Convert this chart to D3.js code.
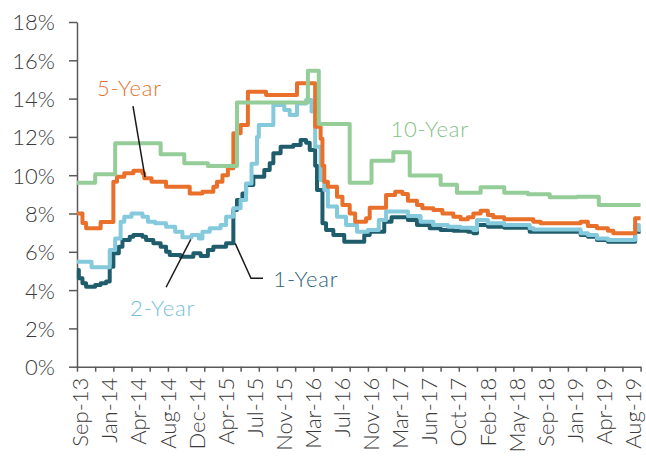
<!DOCTYPE html>
<html>
<head>
<meta charset="utf-8">
<script src="https://cdn.jsdelivr.net/npm/d3@7"></script>
<style>
  html, body { margin: 0; padding: 0; background: #fff; }
  #chart { width: 646px; height: 461px; }
  text { font-family: Lato, "Open Sans", sans-serif; font-weight: 300; }
</style>
</head>
<body>
<div id="chart"></div>
<script>
// Term deposit rates by maturity (weekly, Sep-13 to Aug-19)
(function () {
  ///////////////////////////////////////////////////////////// ! Data
  // Category axis: weekly points, labels every 16 weeks
  const weekCount = 310;
  const dateLabels = [
    "Sep-13", "Jan-14", "Apr-14", "Aug-14", "Dec-14", "Apr-15", "Jul-15",
    "Nov-15", "Mar-16", "Jul-16", "Nov-16", "Mar-17", "Jun-17", "Oct-17",
    "Feb-18", "May-18", "Sep-18", "Jan-19", "Apr-19", "Aug-19",
  ];
  const labelEvery = 16;
  const tickEvery = 10;
  const yTicks = [0, 2, 4, 6, 8, 10, 12, 14, 16, 18];

  // [week, rate %] at each step change
  const tenYear = [
    [0, 9.6], [10, 10.05], [21, 11.67], [46, 11.1], [59, 10.62], [72, 10.48],
    [88, 13.79], [127, 15.46], [133, 12.67], [150, 9.61], [162, 10.76],
    [174, 11.2], [183, 9.99], [200, 9.5], [209, 9.09], [222, 9.37],
    [235, 9.09], [248, 9.0], [260, 8.85], [275, 8.88], [287, 8.44], [310, 8.44],
  ];
  const fiveYear = [
    [0, 8.0], [3, 7.5], [5, 7.23], [13, 7.55], [20, 9.66], [22, 9.92],
    [26, 10.1], [31, 10.23], [36, 10.1], [37, 9.84], [41, 9.66], [49, 9.4],
    [62, 9.05], [69, 9.14], [75, 9.4], [77, 9.66], [80, 10.0], [83, 10.36],
    [86, 12.19], [90, 12.62], [94, 14.36], [104, 14.19], [121, 14.8],
    [131, 12.53], [134, 11.9], [135, 10.5], [136, 9.66], [138, 9.4],
    [143, 8.88], [146, 8.44], [150, 8.0], [153, 7.57], [159, 7.75],
    [161, 8.3], [170, 8.97], [175, 9.14], [179, 9.02], [182, 8.67],
    [187, 8.44], [190, 8.27], [196, 8.18], [201, 8.0], [207, 7.83],
    [211, 7.7], [215, 7.8], [218, 8.0], [222, 8.15], [226, 7.92], [229, 7.8],
    [235, 7.7], [251, 7.57], [255, 7.49], [277, 7.57], [281, 7.35],
    [286, 7.23], [292, 7.1], [295, 6.97], [307, 7.75], [310, 7.75],
  ];
  const twoYear = [
    [0, 5.48], [8, 5.19], [18, 6.09], [21, 6.7], [24, 7.57], [26, 7.83],
    [30, 8.0], [36, 7.83], [39, 7.57], [43, 7.49], [49, 7.31], [54, 7.05],
    [58, 6.76], [63, 6.88], [67, 6.7], [69, 7.05], [73, 7.23], [79, 7.4],
    [82, 7.83], [86, 8.27], [90, 8.7], [93, 9.57], [96, 10.6], [99, 12.0],
    [100, 12.62], [108, 13.66], [114, 13.4], [117, 13.14], [121, 13.75],
    [126, 13.93], [129, 13.32], [131, 11.49], [134, 9.75], [136, 9.23],
    [138, 8.36], [143, 7.83], [148, 7.4], [154, 7.05], [160, 7.14],
    [166, 7.66], [170, 8.1], [182, 7.87], [189, 7.57], [196, 7.4],
    [204, 7.31], [211, 7.26], [218, 7.14], [220, 7.66], [226, 7.49],
    [235, 7.4], [249, 7.23], [251, 7.17], [277, 6.97], [281, 6.88],
    [286, 6.7], [292, 6.62], [307, 7.4], [309, 7.14], [310, 7.14],
  ];
  const oneYear = [
    [0, 5.05], [1, 4.62], [3, 4.36], [5, 4.18], [10, 4.27], [13, 4.36],
    [16, 4.45], [18, 5.22], [20, 5.92], [23, 6.27], [25, 6.62], [29, 6.79],
    [31, 6.88], [36, 6.79], [38, 6.62], [42, 6.44], [46, 6.27], [49, 6.0],
    [51, 5.83], [57, 5.74], [64, 5.92], [68, 5.78], [72, 6.09], [75, 6.27],
    [82, 6.44], [86, 8.18], [88, 8.7], [91, 9.05], [93, 9.49], [97, 9.92],
    [103, 10.27], [106, 10.62], [108, 11.14], [112, 11.49], [119, 11.58],
    [123, 11.84], [126, 11.7], [128, 11.32], [131, 10.5], [132, 9.23],
    [135, 7.49], [137, 7.14], [141, 6.88], [147, 6.53], [158, 6.88],
    [161, 7.05], [169, 7.57], [173, 7.8], [182, 7.66], [187, 7.4],
    [194, 7.23], [200, 7.14], [207, 7.1], [215, 7.05], [218, 6.97],
    [220, 7.4], [226, 7.31], [235, 7.26], [249, 7.05], [277, 6.88],
    [281, 6.79], [286, 6.62], [292, 6.53], [307, 7.05], [310, 7.05],
  ];

  // Drawn bottom to top
  const series = [
    { name: "1-Year", values: oneYear, color: "#1f5d6c" },
    { name: "2-Year", values: twoYear, color: "#85c9dd" },
    { name: "5-Year", values: fiveYear, color: "#e8702a" },
    { name: "10-Year", values: tenYear, color: "#94cd98" },
  ];

  // Callouts in data units: label anchor and leader polyline
  const callouts = [
    { text: "5-Year", color: "#e8702a", at: [11, 14.14], leader: [[30.8, 13.61], [37.4, 9.9]] },
    { text: "10-Year", color: "#7fc286", at: [172.4, 12.0], leader: [] },
    { text: "2-Year", color: "#72bfd8", at: [29.2, 2.65], leader: [[49, 4.15], [62.6, 6.65]] },
    { text: "1-Year", color: "#2a6577", at: [108, 4.16], leader: [[102.3, 4.62], [95.7, 4.62], [87, 6.44]] },
  ];

  ///////////////////////////////////////////////////////////// ! Setup
  const fullWidth = 646;
  const fullHeight = 461;
  const margin = { top: 22, right: 5, bottom: 94.3, left: 77 };
  const width = fullWidth - margin.left - margin.right;
  const height = fullHeight - margin.top - margin.bottom;

  const svg = d3
    .select("#chart")
    .append("svg")
    .attr("width", fullWidth)
    .attr("height", fullHeight)
    .style("display", "block")
    .append("g")
    .attr("transform", `translate(${margin.left},${margin.top})`);

  ///////////////////////////////////////////////////////////// ! Scales
  const xScale = d3.scaleLinear().domain([0, weekCount]).range([0, width - 0.4]);
  const yScale = d3.scaleLinear().domain([0, 18]).range([height, 0]);

  ///////////////////////////////////////////////////////////// ! Axes
  const axisColor = "#5a5a5a";
  const textColor = "#3b3b3b";

  // Y axis
  const yAxis = svg
    .append("g")
    .attr("class", "y-axis")
    .call(
      d3.axisLeft(yScale)
        .tickValues(yTicks)
        .tickFormat((d) => d + "%")
        .tickSize(8)
        .tickSizeOuter(0)
        .tickPadding(14)
    );
  yAxis.selectAll("path, line").attr("stroke", axisColor).attr("stroke-width", 1.5);
  yAxis
    .selectAll("text")
    .attr("fill", textColor)
    .style("font-size", "22px")
    .attr("dy", "0.36em");

  // X axis tick marks every 10 weeks
  const xAxis = svg
    .append("g")
    .attr("class", "x-axis")
    .attr("transform", `translate(0,${height})`)
    .call(
      d3.axisBottom(xScale)
        .tickValues(d3.range(0, weekCount + 1, tickEvery))
        .tickFormat("")
        .tickSize(5)
        .tickSizeOuter(0)
    );
  xAxis.selectAll("path, line").attr("stroke", axisColor).attr("stroke-width", 1.5);

  // X axis date labels, rotated
  const labelPos = dateLabels.map((d, i) => i * labelEvery + 0.5);
  const xLabels = svg
    .append("g")
    .attr("class", "x-labels")
    .attr("transform", `translate(0,${height})`)
    .call(
      d3.axisBottom(xScale)
        .tickValues(labelPos)
        .tickFormat((d, i) => dateLabels[i])
        .tickSize(0)
    );
  xLabels.select(".domain").remove();
  xLabels
    .selectAll("text")
    .attr("fill", textColor)
    .style("font-size", "22px")
    .attr("transform", "rotate(-90)")
    .attr("text-anchor", "end")
    .attr("x", -11)
    .attr("y", 0)
    .attr("dy", "0.45em");

  ///////////////////////////////////////////////////////////// ! Lines
  const line = d3
    .line()
    .x((d) => xScale(d[0]))
    .y((d) => yScale(d[1]))
    .curve(d3.curveStepAfter);

  svg
    .selectAll(".series")
    .data(series)
    .enter()
    .append("path")
    .attr("class", "series")
    .attr("d", (d) => line(d.values))
    .attr("fill", "none")
    .attr("stroke", (d) => d.color)
    .attr("stroke-width", 4)
    .attr("stroke-linejoin", "round");

  ///////////////////////////////////////////////////////////// ! Callouts
  const leader = d3
    .line()
    .x((d) => xScale(d[0]))
    .y((d) => yScale(d[1]));

  callouts.forEach((c) => {
    if (c.leader.length) {
      svg
        .append("path")
        .attr("d", leader(c.leader))
        .attr("fill", "none")
        .attr("stroke", "#1a1a1a")
        .attr("stroke-width", 1.5);
    }
    svg
      .append("text")
      .attr("x", xScale(c.at[0]))
      .attr("y", yScale(c.at[1]))
      .attr("fill", c.color)
      .style("font-size", "22px")
      .style("letter-spacing", "0.8px")
      .text(c.text);
  });
})();
</script>
</body>
</html>
